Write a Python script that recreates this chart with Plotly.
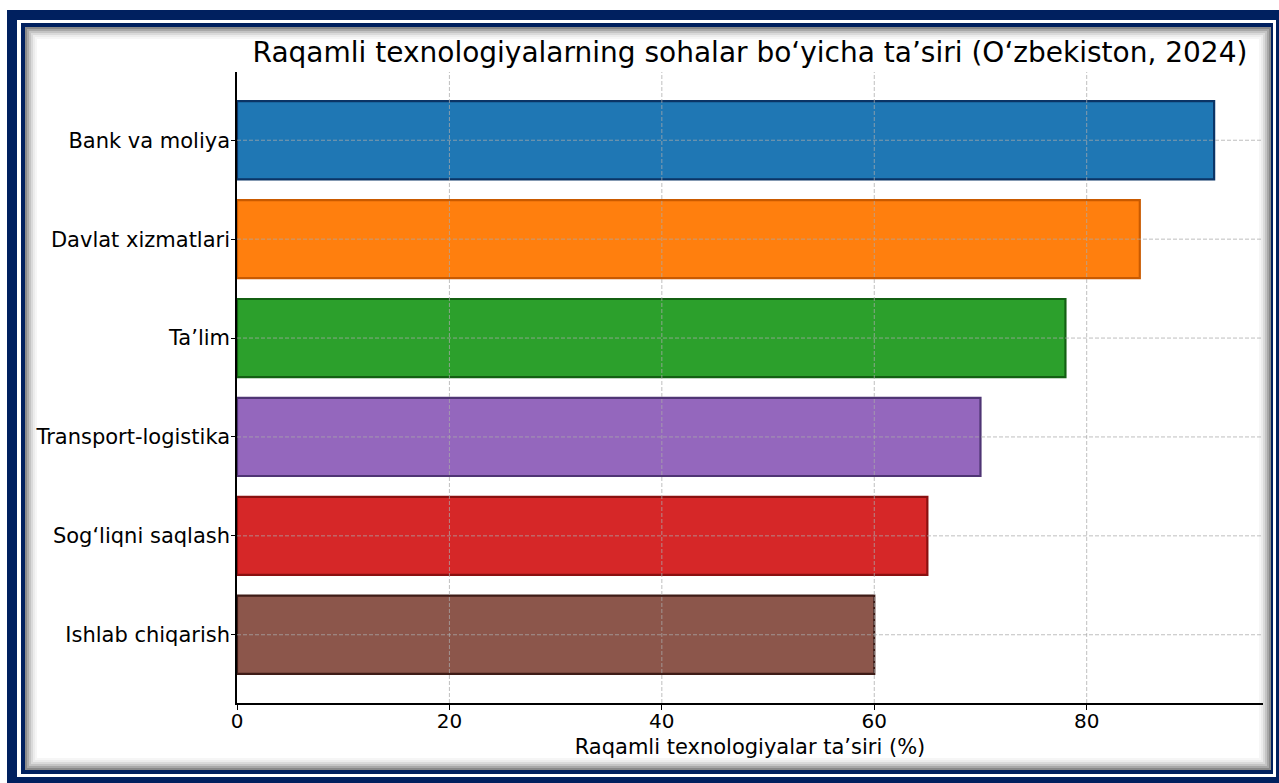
import plotly.graph_objects as go

# ---- data ----
sectors = ["Ishlab chiqarish", "Sog‘liqni saqlash", "Transport-logistika",
           "Ta’lim", "Davlat xizmatlari", "Bank va moliya"]
impact = [60, 65, 70, 78, 85, 92]
bar_colors = ["#8c564b", "#d62728", "#9467bd", "#2ca02c", "#ff7f0e", "#1f77b4"]
edge_colors = ["#3e1c17", "#8a1010", "#4f3574", "#136013", "#c95a00", "#0b3466"]
x_ticks = [0, 20, 40, 60, 80]

title_text = "Raqamli texnologiyalarning sohalar bo‘yicha ta’siri (O‘zbekiston, 2024)"
x_title = "Raqamli texnologiyalar ta’siri (%)"

W, H = 1279, 783
L, R, T, B = 237, 16, 72, 80
PW, PH = W - L - R, H - T - B


def px(x):
    return (x - L) / PW


def py(y):
    return (H - B - y) / PH


fig = go.Figure()
fig.add_trace(go.Bar(
    x=impact, y=list(range(len(sectors))), orientation="h", width=0.79,
    marker=dict(color=bar_colors, line=dict(color=edge_colors, width=2.2)),
    hoverinfo="x+y",
))

shapes = []
navy = "#00205f"


def rect(x0, y0, x1, y1, fill=None, line=None, lw=0):
    d = dict(type="rect", xref="paper", yref="paper",
             x0=px(x0), x1=px(x1), y0=py(y1), y1=py(y0), layer="below")
    if fill:
        d["fillcolor"] = fill
    d["line"] = dict(width=lw, color=line or "rgba(0,0,0,0)")
    return d


shapes.append(rect(7, 10, 1300, 800, fill=navy))
shapes.append(rect(17, 20, 1276, 777, fill="white"))
shapes.append(rect(21, 23, 1273, 774, fill=navy))
shapes.append(rect(25, 27, 1271, 770, fill="white"))
for off, c in [(1, "#8a8a8a"), (3, "#a8a8a8"), (5, "#c4c4c4"), (7, "#dadada"), (9, "#ececec"), (11, "#f6f6f6")]:
    shapes.append(rect(25 + off, 27 + off, 1271 - off, 770 - off, line=c, lw=2))

grid = dict(color="rgba(170,170,170,0.75)", width=1, dash="4px,2px")
for v in x_ticks[1:]:
    shapes.append(dict(type="line", xref="x", yref="paper", x0=v, x1=v, y0=0, y1=1,
                       line=grid, layer="above"))
for i in range(len(sectors)):
    shapes.append(dict(type="line", xref="paper", yref="y", x0=0, x1=1, y0=i, y1=i,
                       line=grid, layer="above"))

font = "DejaVu Sans"
fig.update_layout(
    width=W, height=H,
    margin=dict(l=L, r=R, t=T, b=B, autoexpand=False),
    paper_bgcolor="white", plot_bgcolor="white",
    template="none",
    showlegend=False,
    font=dict(family=font, color="black", size=20),
    title=dict(text=title_text, x=px(750), xref="paper", xanchor="center",
               y=1 - 52 / H, yref="container", yanchor="middle",
               font=dict(family=font, size=28, color="black")),
    xaxis=dict(range=[0, 96.6], tickvals=x_ticks, ticktext=[str(v) for v in x_ticks],
               showgrid=False, zeroline=False, showline=True, linecolor="black",
               linewidth=1.5, ticks="outside", ticklen=5, tickcolor="black",
               tickfont=dict(size=20), mirror=False, ticklabelstandoff=-6,
               title=dict(text=x_title, font=dict(size=21), standoff=8)),
    yaxis=dict(range=[-0.69, 5.69], tickvals=list(range(len(sectors))), ticktext=sectors,
               showgrid=False, zeroline=False, showline=True, linecolor="black",
               linewidth=1.5, ticks="outside", ticklen=4, tickcolor="black",
               tickfont=dict(size=21), mirror=False, ticklabelstandoff=-3),
    shapes=shapes,
    bargap=0.2,
)

fig.write_html("out.html", config={"displayModeBar": False},
               post_script="document.body.style.margin='0';document.body.style.overflow='hidden';")
